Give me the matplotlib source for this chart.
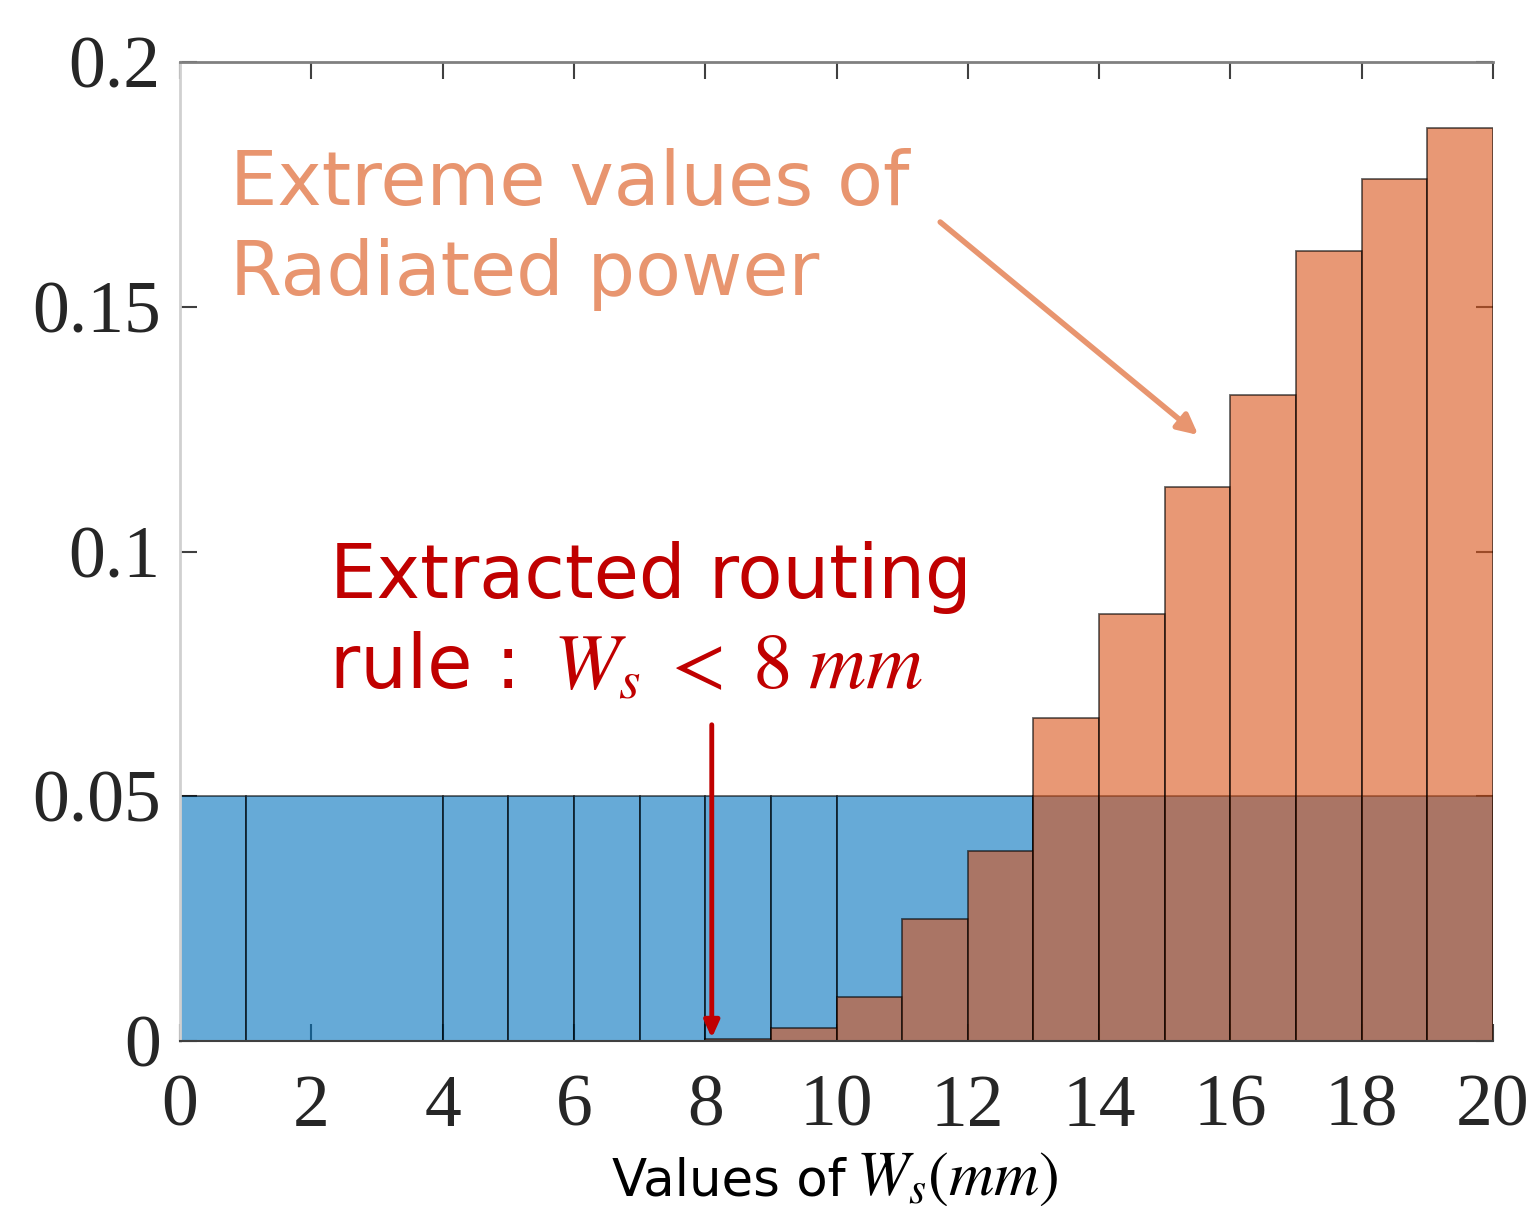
import matplotlib
matplotlib.use("Agg")
import matplotlib.pyplot as plt
import numpy as np

# ---- data ----
blue_edges = [0, 1, 4, 5, 6, 7, 8, 9, 10, 13, 14, 15, 16, 17, 18, 19, 20]
blue_heights = [0.05] * 16
orange_edges = [8, 9, 10, 11, 12, 13, 14, 15, 16, 17, 18, 19, 20]
orange_heights = [0.0004, 0.0027, 0.009, 0.0249, 0.0388, 0.066, 0.0872,
                  0.1132, 0.132, 0.1614, 0.1761, 0.1865]
x_ticks = [0, 2, 4, 6, 8, 10, 12, 14, 16, 18, 20]
y_ticks = [0, 0.05, 0.1, 0.15, 0.2]
y_ticklabels = ["0", "0.05", "0.1", "0.15", "0.2"]

plt.rcParams['mathtext.fontset'] = 'stix'
plt.rcParams['font.family'] = ['DejaVu Sans']

W, H = 1533, 1206
fig = plt.figure(figsize=(W / 100, H / 100), dpi=100)
ax = fig.add_axes([180 / W, 1 - 1041 / H, (1493 - 180) / W, (1041 - 62) / H])

def draw_hist(edges, heights, color):
    edges = np.asarray(edges, dtype=float)
    lefts = edges[:-1]
    widths = np.diff(edges)
    ax.bar(lefts, heights, width=widths, align='edge', color=color, alpha=0.6,
           edgecolor='black', linewidth=1.3, zorder=2)

draw_hist(blue_edges, blue_heights, '#0072BD')
draw_hist(orange_edges, orange_heights, '#D95319')

ax.set_xlim(0, 20)
ax.set_ylim(0, 0.2)
ax.set_xticks(x_ticks)
ax.set_xticklabels([str(t) for t in x_ticks])
ax.set_yticks(y_ticks)
ax.set_yticklabels(y_ticklabels)

serif = ['Liberation Serif', 'DejaVu Serif']
for lab in ax.get_xticklabels() + ax.get_yticklabels():
    lab.set_fontfamily(serif)
    lab.set_fontsize(53)
    lab.set_color('#262626')

ax.tick_params(direction='in', length=12, width=1.5, top=True, right=True,
               color='#404040')
ax.tick_params(axis='x', pad=24)
ax.tick_params(axis='y', pad=14)
ax.spines['right'].set_visible(False)
ax.spines['left'].set_color('#d0d0d0')
ax.spines['left'].set_linewidth(2)
ax.spines['top'].set_color('#808080')
ax.spines['top'].set_linewidth(2)
ax.spines['bottom'].set_color('#404040')
ax.spines['bottom'].set_linewidth(1.5)

# x label
fig.text(612 / W, 1 - 1195 / H, "Values of", fontsize=37,
         ha='left', va='baseline', color='black')
fig.text(856 / W, 1 - 1195 / H, r"$W_s(mm)$", fontsize=45,
         ha='left', va='baseline', color='black')

# orange annotation
orange_txt = '#E8956F'
fig.text(230 / W, 1 - 205 / H, "Extreme values of", fontsize=54,
         color=orange_txt, va='baseline', ha='left')
fig.text(230 / W, 1 - 295 / H, "Radiated power", fontsize=54,
         color=orange_txt, va='baseline', ha='left')
ax.annotate("", xy=(15.51, 0.1238), xytext=(11.58, 0.1673),
            arrowprops=dict(arrowstyle='-|>,head_length=1.2,head_width=0.6',
                            color=orange_txt, lw=4, shrinkA=0, shrinkB=0),
            zorder=5)

# red annotation
red = '#C00000'
fig.text(330 / W, 1 - 598 / H, "Extracted routing", fontsize=53,
         color=red, va='baseline', ha='left')
fig.text(330 / W, 1 - 688 / H, "rule :", fontsize=53,
         color=red, va='baseline', ha='left')
fig.text(553 / W, 1 - 688 / H, r"$W_s\;<\;8\;mm$", fontsize=57,
         color=red, va='baseline', ha='left')
ax.annotate("", xy=(8.1, 0.0006), xytext=(8.1, 0.0646),
            arrowprops=dict(arrowstyle='-|>,head_length=1.0,head_width=0.45',
                            color=red, lw=3.5, shrinkA=0, shrinkB=0),
            zorder=5)

fig.savefig("out.png", dpi=100)
